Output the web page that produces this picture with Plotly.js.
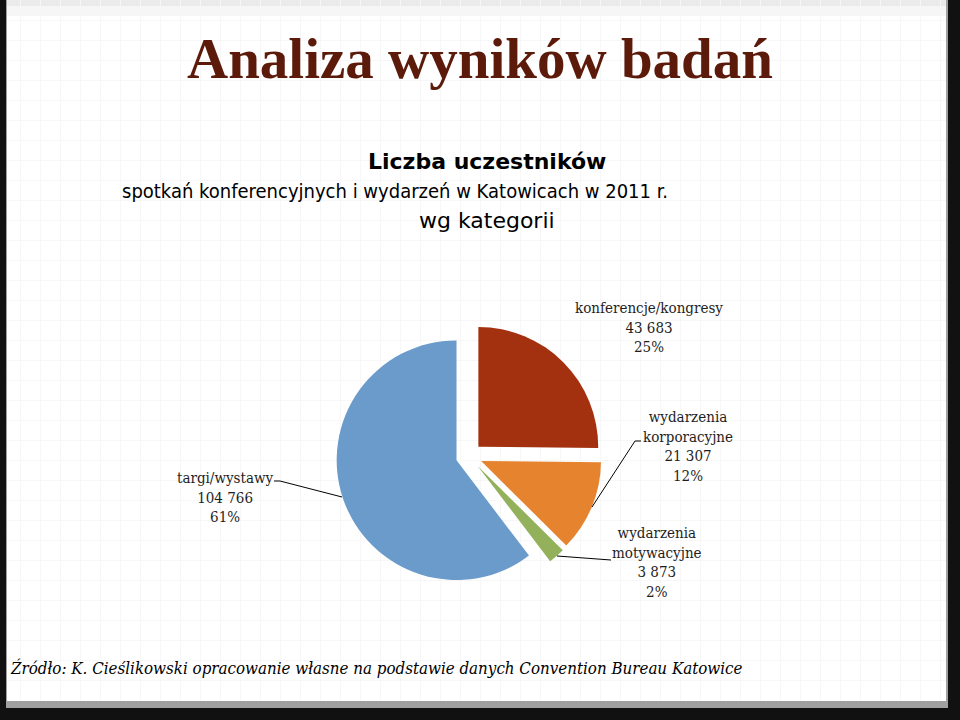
<!DOCTYPE html>
<html>
<head>
<meta charset="utf-8">
<script src="https://cdn.plot.ly/plotly-3.0.1.min.js"></script>
<style>
  html, body { margin: 0; padding: 0; background: #111; }
  #chart { width: 960px; height: 720px; }
</style>
</head>
<body>
<div id="chart"></div>
<script>
// data
var categories = ['konferencje/kongresy', 'wydarzenia korporacyjne', 'wydarzenia motywacyjne', 'targi/wystawy'];
var participants = [43683, 21307, 3873, 104766];
var percentLabels = ['25%', '12%', '2%', '61%'];
var sliceColors = ['#A3310F', '#E6832F', '#93B15A', '#6A9BCA'];

var W = 960, H = 720;
function px(x) { return x / W; }
function py(y) { return 1 - y / H; }

function fmt(n) {
  return String(n).replace(/\B(?=(\d{3})+(?!\d))/g, ' ');
}

var labelFont = { family: 'DejaVu Serif Condensed, DejaVu Serif', size: 15, color: '#1e1e1e' };

var pie = {
  type: 'pie',
  labels: categories,
  values: participants,
  sort: false,
  direction: 'clockwise',
  rotation: 0,
  pull: [0.11, 0.11, 0.11, 0.11],
  marker: { colors: sliceColors, line: { width: 0 } },
  textinfo: 'none',
  hoverinfo: 'label+value+percent',
  showlegend: false,
  domain: { x: [px(336), px(602)], y: [py(589), py(323)] }
};

// empty trace only to get the faint background grid
var grid = { type: 'scatter', x: [], y: [], hoverinfo: 'skip', showlegend: false };

// label positions (text centres, pixels)
var labelPos = [[649, 328], [688, 446], [657, 562], [225, 497]];

var annotations = categories.map(function (c, i) {
  return {
    xref: 'paper', yref: 'paper',
    x: px(labelPos[i][0]), y: py(labelPos[i][1]),
    xanchor: 'center', yanchor: 'middle',
    text: c.replace(' ', '<br>') + '<br>' + fmt(participants[i]) + '<br>' + percentLabels[i],
    showarrow: false,
    font: labelFont
  };
});

annotations.push(
  { xref: 'paper', yref: 'paper', x: px(480), y: py(58), xanchor: 'center', yanchor: 'middle',
    text: '<b>Analiza wyników badań</b>', showarrow: false,
    font: { family: 'Liberation Serif', size: 57, color: '#5C1A0B' } },
  { xref: 'paper', yref: 'paper', x: px(487), y: py(161), xanchor: 'center', yanchor: 'middle',
    text: '<b>Liczba uczestników</b>', showarrow: false,
    font: { family: 'DejaVu Sans', size: 22, color: '#000' } },
  { xref: 'paper', yref: 'paper', x: px(120), y: py(191), xanchor: 'left', yanchor: 'middle',
    text: 'spotkań konferencyjnych i wydarzeń w Katowicach w 2011 r.', showarrow: false,
    font: { family: 'DejaVu Sans Condensed, DejaVu Sans', size: 20, color: '#000' } },
  { xref: 'paper', yref: 'paper', x: px(487), y: py(220), xanchor: 'center', yanchor: 'middle',
    text: 'wg kategorii', showarrow: false,
    font: { family: 'DejaVu Sans', size: 22, color: '#000' } },
  { xref: 'paper', yref: 'paper', x: px(8), y: py(668), xanchor: 'left', yanchor: 'middle',
    text: '<i>Źródło: K. Cieślikowski opracowanie własne na podstawie danych Convention Bureau Katowice</i>',
    showarrow: false,
    font: { family: 'DejaVu Serif Condensed, DejaVu Serif', size: 16.8, color: '#000' } }
);

function line(path) {
  return { type: 'path', xref: 'paper', yref: 'paper', path: path, layer: 'above',
           line: { color: '#000', width: 1 } };
}
function pth(pts) {
  return pts.map(function (p, i) { return (i ? 'L ' : 'M ') + px(p[0]) + ' ' + py(p[1]); }).join(' ');
}

var shapes = [
  // slide panel
  { type: 'rect', xref: 'paper', yref: 'paper', layer: 'below',
    x0: px(6), x1: px(948), y0: py(708), y1: py(0), fillcolor: '#a0a0a0', line: { width: 0 } },
  { type: 'rect', xref: 'paper', yref: 'paper', layer: 'below',
    x0: px(7), x1: px(946), y0: py(701), y1: py(0), fillcolor: '#ffffff', line: { width: 0 } },
  { type: 'rect', xref: 'paper', yref: 'paper', layer: 'below',
    x0: px(7), x1: px(946), y0: py(6), y1: py(0), fillcolor: 'rgba(215,215,215,0.4)', line: { width: 0 } },
  { type: 'rect', xref: 'paper', yref: 'paper', layer: 'below',
    x0: px(7), x1: px(946), y0: py(16), y1: py(0), fillcolor: 'rgba(225,225,225,0.3)', line: { width: 0 } },
  // leader lines
  line(pth([[641, 441], [635, 441], [592, 507]])),
  line(pth([[611, 560], [557, 556]])),
  line(pth([[274, 481], [280, 481], [342, 497]]))
];

var layout = {
  width: W, height: H,
  margin: { l: 0, r: 0, t: 0, b: 0 },
  paper_bgcolor: '#111111',
  plot_bgcolor: 'rgba(0,0,0,0)',
  xaxis: { domain: [px(7), px(946)], range: [7, 946], dtick: 20, tick0: 0, showgrid: true,
           gridcolor: '#f7f7f7', showticklabels: false, zeroline: false, ticks: '', fixedrange: true },
  yaxis: { domain: [py(701), 1], range: [701, 0], dtick: 20, tick0: 0, showgrid: true,
           gridcolor: '#f7f7f7', showticklabels: false, zeroline: false, ticks: '', fixedrange: true },
  shapes: shapes,
  annotations: annotations
};

Plotly.newPlot('chart', [grid, pie], layout, { displayModeBar: false, staticPlot: true });
</script>
</body>
</html>
